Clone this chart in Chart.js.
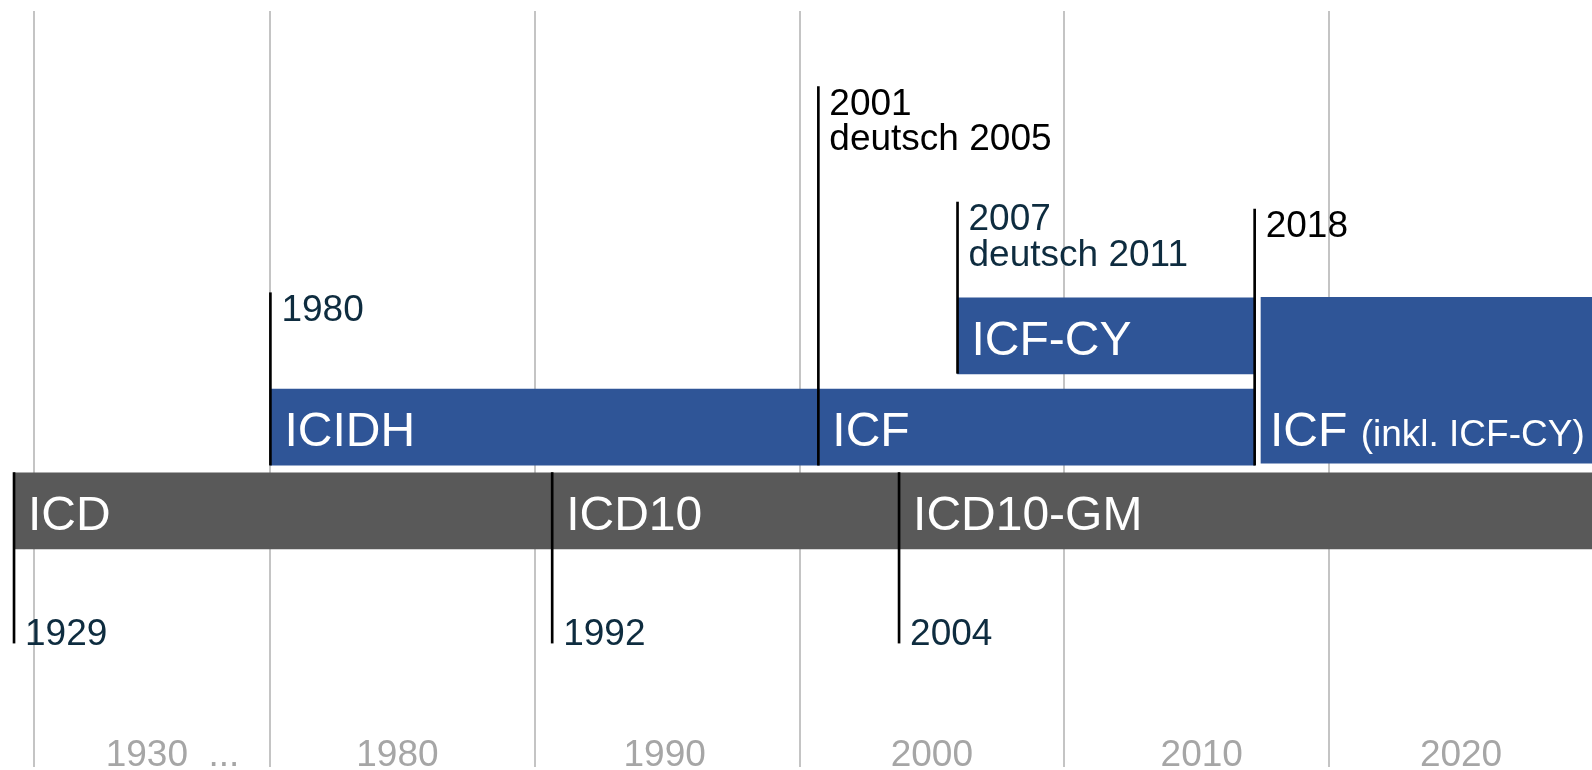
<!DOCTYPE html>
<html lang="de">
<head>
  <meta charset="UTF-8" />
  <title>ICD / ICF Zeitleiste</title>
  <script src="https://cdn.jsdelivr.net/npm/chart.js"></script>
  <style>
    body {
      margin: 0;
      background: #ffffff;
      overflow: hidden;
    }
    .chart-box {
      width: 1592px;
      height: 770px;
    }
  </style>
</head>
<body>
  <div class="chart-box">
    <canvas id="timeline"></canvas>
  </div>

  <script>
    // x axis = position on the timeline in years (everything before 1980 is squeezed together)
    const gridYears = [1971.06, 1980, 1990, 2000, 2010, 2020];
    const decadeLabels = ['1930  ...', '1980', '1990', '2000', '2010', '2020'];
    const decadeLabelAt = [1976.3, 1984.8, 1994.9, 2005.0, 2015.2, 2025.0];

    // classification bars, lane 0 = ICD, lane 1 = ICIDH / ICF, lane 2 = ICF-CY
    const barNames = ['ICD', 'ICD10', 'ICD10-GM', 'ICIDH', 'ICF', 'ICF-CY'];
    const barStart = [1970.31, 1990.65, 2003.76, 1980, 2000.71, 2005.97];
    const barEnd = [1990.65, 2003.76, 2030, 2000.71, 2017.2, 2017.2];
    const barLane = [0, 0, 0, 1, 1, 2.09];

    // ICF since 2018 covers lanes 1 and 2
    const wideName = 'ICF';
    const wideNote = '(inkl. ICF-CY)';
    const wideStart = 2017.44;
    const wideEnd = 2030;
    const wideLane = 1.56;
    const wideTextLane = 1;

    // release markers: line from the bar edge to the label
    const markerAt = [1970.31, 1990.65, 2003.76, 1980, 2000.71, 2005.97, 2017.2];
    const markerFrom = [0.457, 0.457, 0.457, 0.546, 0.546, 1.642, 0.546];
    const markerTo = [-1.58, -1.58, -1.58, 2.605, 5.066, 3.688, 3.605];
    const markerText = ['1929', '1992', '2004', '1980', '2001\ndeutsch 2005', '2007\ndeutsch 2011', '2018'];

    const BLUE = '#2f5597';
    const GREY = '#595959';
    const NAVY = '#0e2c3f';
    const FONT = '"Liberation Sans", Arial, sans-serif';

    Chart.defaults.font.family = FONT;

    const timelineLabels = {
      id: 'timelineLabels',
      afterDatasetsDraw(chart, args, opts) {
        const ctx = chart.ctx;
        const x = chart.scales.x;
        const y = chart.scales.y;
        ctx.save();
        ctx.textAlign = 'left';
        ctx.textBaseline = 'alphabetic';

        // names inside the bars
        ctx.fillStyle = '#ffffff';
        ctx.font = '48px ' + FONT;
        barNames.forEach((name, i) => {
          ctx.fillText(name, x.getPixelForValue(barStart[i]) + 14, y.getPixelForValue(barLane[i]) + 19);
        });
        const wx = x.getPixelForValue(wideStart) + 9;
        const wy = y.getPixelForValue(wideTextLane) + 19;
        ctx.fillText(wideName, wx, wy);
        const nx = wx + ctx.measureText(wideName + ' ').width;
        ctx.font = '37px ' + FONT;
        ctx.fillText(wideNote, nx, wy);

        // year labels next to the markers
        ctx.font = '37px ' + FONT;
        markerText.forEach((txt, i) => {
          const lines = txt.split('\n');
          const px = x.getPixelForValue(markerAt[i]) + 11;
          const end = y.getPixelForValue(markerTo[i]);
          const up = markerTo[i] > markerFrom[i];
          ctx.fillStyle = opts.colors[i];
          lines.forEach((line, k) => {
            const base = up ? end + 28 + k * 35.6 : end + 2 - (lines.length - 1 - k) * 35.6;
            ctx.fillText(line, px, base);
          });
        });
        ctx.restore();
      }
    };

    new Chart(document.getElementById('timeline'), {
      type: 'bar',
      data: {
        datasets: [
          {
            label: 'Marker',
            indexAxis: 'x',
            grouped: false,
            barThickness: 2,
            order: 0,
            backgroundColor: '#000000',
            borderWidth: 0,
            data: markerAt.map((m, i) => ({ x: m, y: [markerFrom[i], markerTo[i]] }))
          },
          {
            label: 'Klassifikationen',
            indexAxis: 'y',
            grouped: false,
            barThickness: 76,
            order: 1,
            backgroundColor: ctx => (barLane[ctx.dataIndex] === 0 ? GREY : BLUE),
            borderWidth: 0,
            data: barNames.map((n, i) => ({ x: [barStart[i], barEnd[i]], y: barLane[i] }))
          },
          {
            label: 'ICF inkl. ICF-CY',
            indexAxis: 'y',
            grouped: false,
            barThickness: 166,
            order: 2,
            backgroundColor: BLUE,
            borderWidth: 0,
            data: [{ x: [wideStart, wideEnd], y: wideLane }]
          }
        ]
      },
      options: {
        indexAxis: 'y',
        responsive: true,
        maintainAspectRatio: false,
        animation: false,
        layout: { padding: { top: 11, bottom: 3, left: 0, right: 0 } },
        plugins: {
          legend: { display: false },
          tooltip: { enabled: false },
          timelineLabels: {
            colors: [NAVY, NAVY, NAVY, NAVY, '#000000', NAVY, '#000000']
          }
        },
        scales: {
          x: {
            type: 'linear',
            min: 1969.78,
            max: 2029.95,
            offset: false,
            stacked: false,
            afterBuildTicks: scale => {
              scale.ticks = gridYears.map(v => ({ value: v }));
            },
            grid: { color: '#c4c4c4', lineWidth: 2, drawTicks: false, offset: false },
            border: { display: false },
            ticks: { display: false }
          },
          x2: {
            type: 'linear',
            axis: 'x',
            position: { y: -2.7 },
            min: 1969.78,
            max: 2029.95,
            offset: false,
            afterBuildTicks: scale => {
              scale.ticks = decadeLabelAt.map(v => ({ value: v }));
            },
            grid: { display: false, drawTicks: false },
            border: { display: false },
            ticks: {
              autoSkip: false,
              maxRotation: 0,
              padding: 0,
              color: '#a6a6a6',
              font: { size: 37, lineHeight: 1 },
              callback: (v, i) => decadeLabels[i]
            }
          },
          y: {
            type: 'linear',
            min: -3.06,
            max: 5.97,
            offset: false,
            stacked: false,
            display: false,
            grid: { offset: false }
          }
        }
      },
      plugins: [timelineLabels]
    });
  </script>
</body>
</html>
